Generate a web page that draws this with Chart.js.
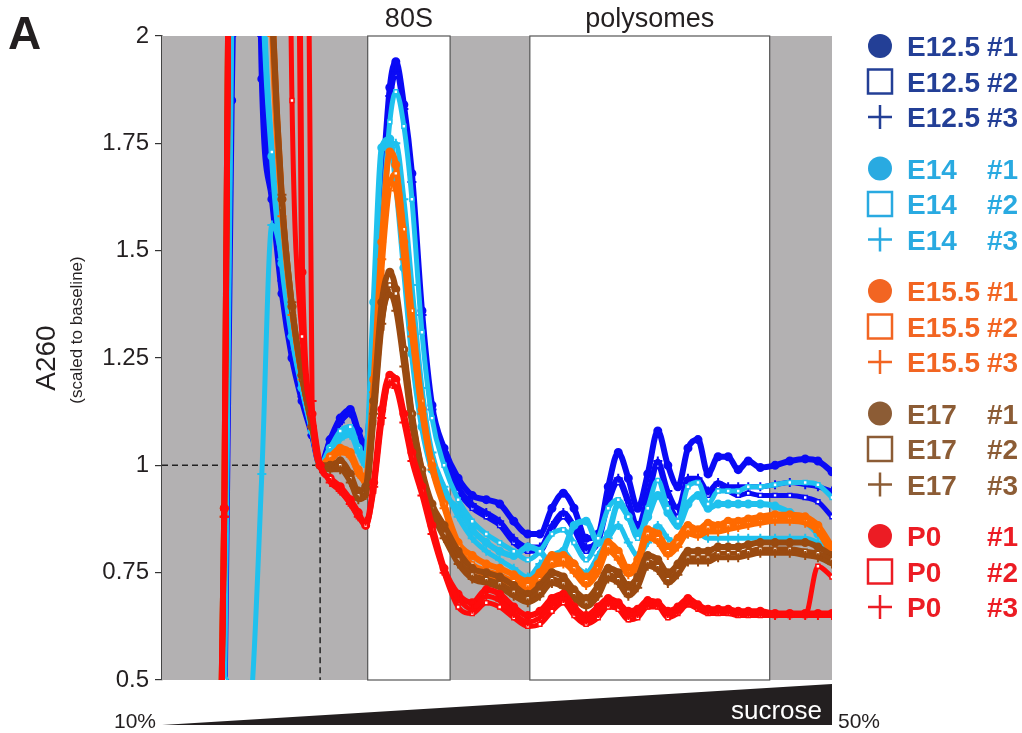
<!DOCTYPE html>
<html>
<head>
<meta charset="utf-8">
<script src="https://cdn.jsdelivr.net/npm/chart.js@4.4.1/dist/chart.umd.min.js"></script>
<style>
  html, body { margin: 0; padding: 0; background: #fff; }
  canvas { display: block; }
</style>
</head>
<body>
<canvas id="myChart" width="1022" height="733"></canvas>
<script>
// position along the gradient (% of tube length)
const pos = [7.8, 9.3, 10.4, 13.4, 14.9, 16.4, 17.9, 19.4, 20.9, 22.4,
  23.6, 25.1, 26.6, 28.1, 29.3, 30.4, 31.6, 32.8, 34.0, 34.9,
  36.1, 37.3, 38.8, 40.3, 42.1, 44.2, 46.3, 48.4, 50.4, 52.5,
  54.6, 56.4, 58.2, 59.9, 61.5, 63.3, 65.1, 66.6, 68.1, 69.6,
  71.0, 72.5, 74.0, 75.5, 77.0, 78.5, 80.0, 81.5, 83.0, 84.5,
  86.0, 87.5, 89.3, 91.5, 93.7, 96.0, 97.9, 100];

// A260 scaled to baseline
const e125_1 = [-0.6, 0.40, 1.85, 3.5, 1.90, 1.62, 1.40, 1.25, 1.15, 1.07,
  1.00, 1.06, 1.11, 1.13, 1.08, 1.04, 1.28, 1.62, 1.88, 1.94,
  1.84, 1.68, 1.36, 1.14, 1.04, 0.97, 0.93, 0.92, 0.91, 0.87,
  0.84, 0.84, 0.90, 0.935, 0.90, 0.83, 0.84, 0.95, 1.03, 0.97,
  0.90, 0.98, 1.08, 1.00, 0.95, 1.04, 1.06, 0.98, 1.02, 1.02,
  0.99, 1.01, 0.995, 1.0, 1.01, 1.015, 1.01, 0.985];
const e125_2 = [-0.6, 0.45, 1.95, 3.5, 1.95, 1.64, 1.42, 1.27, 1.16, 1.07,
  1.00, 1.05, 1.10, 1.12, 1.07, 1.03, 1.25, 1.58, 1.84, 1.91,
  1.82, 1.65, 1.33, 1.12, 1.02, 0.94, 0.90, 0.88, 0.86, 0.82,
  0.80, 0.80, 0.85, 0.88, 0.85, 0.80, 0.82, 0.91, 0.96, 0.91,
  0.85, 0.92, 1.00, 0.92, 0.88, 0.96, 0.96, 0.93, 0.95, 0.94,
  0.93, 0.935, 0.93, 0.93, 0.93, 0.925, 0.915, 0.88];
const e125_3 = [-0.6, 0.50, 2.0, 3.6, 2.0, 1.66, 1.43, 1.28, 1.16, 1.07,
  1.00, 1.06, 1.10, 1.12, 1.08, 1.03, 1.26, 1.60, 1.86, 1.92,
  1.83, 1.66, 1.35, 1.13, 1.03, 0.95, 0.91, 0.89, 0.87, 0.83,
  0.81, 0.81, 0.86, 0.89, 0.86, 0.81, 0.83, 0.92, 0.97, 0.92,
  0.86, 0.93, 1.01, 0.94, 0.90, 0.97, 0.97, 0.94, 0.96, 0.95,
  0.95, 0.95, 0.95, 0.955, 0.96, 0.955, 0.95, 0.94];

const e14_1 = [-0.6, 0.50, 2.1, 3.6, 2.2, 1.72, 1.47, 1.30, 1.18, 1.08,
  1.00, 1.04, 1.07, 1.08, 1.04, 1.02, 1.38, 1.74, 1.76, 1.66,
  1.46, 1.26, 1.09, 0.99, 0.93, 0.90, 0.85, 0.82, 0.80, 0.79,
  0.81, 0.80, 0.77, 0.80, 0.86, 0.87, 0.82, 0.84, 0.91, 0.88,
  0.84, 0.88, 0.93, 0.89, 0.86, 0.91, 0.93, 0.90, 0.91, 0.91,
  0.91, 0.91, 0.91, 0.905, 0.89, 0.87, 0.84, 0.81];
const e14_2 = [-0.6, 0.50, 2.1, 3.6, 2.2, 1.73, 1.48, 1.31, 1.18, 1.08,
  1.00, 1.04, 1.08, 1.09, 1.04, 1.00, 1.22, 1.55, 1.80, 1.87,
  1.79, 1.62, 1.31, 1.11, 1.00, 0.92, 0.87, 0.84, 0.82, 0.80,
  0.78, 0.80, 0.84, 0.85, 0.82, 0.78, 0.83, 0.90, 0.92, 0.88,
  0.83, 0.90, 0.965, 0.90, 0.87, 0.95, 0.96, 0.91, 0.94, 0.94,
  0.94, 0.95, 0.95, 0.955, 0.96, 0.96, 0.955, 0.925];
const e14_3 = [0.2, 0.2, 0.25, 0.47, 0.98, 1.56, 1.48, 1.30, 1.18, 1.08,
  1.00, 1.03, 1.06, 1.07, 1.03, 1.00, 1.25, 1.55, 1.73, 1.75,
  1.62, 1.42, 1.18, 1.03, 0.95, 0.88, 0.83, 0.80, 0.78, 0.76,
  0.74, 0.77, 0.79, 0.80, 0.77, 0.75, 0.79, 0.83, 0.86, 0.82,
  0.79, 0.82, 0.86, 0.83, 0.82, 0.84, 0.84, 0.83, 0.83, 0.83,
  0.83, 0.83, 0.83, 0.83, 0.83, 0.83, 0.82, 0.80];

const e155_1 = [-0.6, 0.90, 3.0, 4.0, 3.0, 2.1, 1.62, 1.37, 1.21, 1.09,
  1.00, 1.02, 1.04, 1.03, 0.99, 0.97, 1.20, 1.52, 1.73, 1.70,
  1.52, 1.32, 1.13, 1.00, 0.91, 0.82, 0.79, 0.77, 0.76, 0.745,
  0.73, 0.75, 0.79, 0.79, 0.77, 0.74, 0.77, 0.82, 0.80, 0.76,
  0.78, 0.85, 0.84, 0.81, 0.83, 0.86, 0.85, 0.865, 0.86, 0.87,
  0.87, 0.875, 0.88, 0.885, 0.885, 0.88, 0.86, 0.81];
const e155_2 = [-0.6, 0.85, 2.9, 4.0, 3.0, 2.05, 1.60, 1.36, 1.20, 1.09,
  1.00, 1.02, 1.03, 1.02, 0.98, 0.96, 1.15, 1.45, 1.65, 1.68,
  1.55, 1.36, 1.15, 1.01, 0.91, 0.81, 0.77, 0.755, 0.745, 0.73,
  0.72, 0.735, 0.775, 0.78, 0.76, 0.73, 0.76, 0.81, 0.79, 0.75,
  0.77, 0.84, 0.83, 0.80, 0.82, 0.85, 0.84, 0.855, 0.85, 0.86,
  0.86, 0.865, 0.87, 0.875, 0.875, 0.87, 0.85, 0.80];
const e155_3 = [-0.6, 0.88, 3.0, 4.0, 3.0, 2.0, 1.58, 1.35, 1.20, 1.09,
  1.00, 1.01, 1.03, 1.02, 0.98, 0.96, 1.17, 1.48, 1.66, 1.64,
  1.48, 1.30, 1.12, 0.99, 0.90, 0.80, 0.76, 0.745, 0.735, 0.72,
  0.71, 0.725, 0.765, 0.77, 0.75, 0.72, 0.75, 0.80, 0.78, 0.745,
  0.765, 0.83, 0.82, 0.79, 0.81, 0.84, 0.835, 0.845, 0.845, 0.85,
  0.855, 0.86, 0.865, 0.87, 0.87, 0.865, 0.845, 0.79];

const e17_1 = [-0.6, 0.90, 3.0, 4.0, 3.0, 2.1, 1.62, 1.37, 1.21, 1.09,
  1.00, 1.00, 1.01, 0.98, 0.94, 0.95, 1.15, 1.38, 1.45, 1.41,
  1.27, 1.12, 0.99, 0.91, 0.86, 0.80, 0.76, 0.75, 0.74, 0.72,
  0.70, 0.72, 0.75, 0.74, 0.71, 0.69, 0.72, 0.76, 0.75, 0.72,
  0.74, 0.79, 0.78, 0.75, 0.77, 0.80, 0.80, 0.80, 0.81, 0.81,
  0.81, 0.815, 0.82, 0.82, 0.82, 0.82, 0.81, 0.79];
const e17_2 = [-0.6, 0.85, 2.9, 4.0, 2.8, 2.05, 1.60, 1.36, 1.20, 1.09,
  1.00, 0.99, 1.00, 0.97, 0.93, 0.93, 1.10, 1.32, 1.42, 1.40,
  1.27, 1.12, 0.99, 0.90, 0.84, 0.78, 0.745, 0.735, 0.725, 0.705,
  0.69, 0.705, 0.735, 0.725, 0.70, 0.68, 0.705, 0.745, 0.735, 0.705,
  0.725, 0.775, 0.765, 0.735, 0.755, 0.785, 0.785, 0.785, 0.795, 0.795,
  0.795, 0.80, 0.805, 0.805, 0.805, 0.80, 0.795, 0.78];
const e17_3 = [-0.6, 0.88, 3.0, 4.0, 3.0, 2.1, 1.63, 1.38, 1.21, 1.09,
  1.00, 0.99, 0.99, 0.96, 0.92, 0.93, 1.12, 1.33, 1.40, 1.36,
  1.23, 1.09, 0.97, 0.89, 0.83, 0.77, 0.735, 0.725, 0.715, 0.695,
  0.68, 0.695, 0.725, 0.715, 0.69, 0.67, 0.695, 0.735, 0.725, 0.695,
  0.715, 0.765, 0.755, 0.725, 0.745, 0.775, 0.775, 0.775, 0.785, 0.785,
  0.785, 0.79, 0.795, 0.795, 0.795, 0.79, 0.785, 0.77];

const p0_1 = [-0.6, 0.90, 3.0, 4.0, 4.0, 4.0, 4.0, 4.0, 1.45, 1.12,
  1.00, 0.97, 0.95, 0.92, 0.89, 0.86, 0.96, 1.13, 1.21, 1.20,
  1.12, 1.03, 0.95, 0.86, 0.76, 0.70, 0.68, 0.71, 0.70, 0.67,
  0.65, 0.66, 0.69, 0.70, 0.67, 0.65, 0.67, 0.69, 0.68, 0.66,
  0.665, 0.685, 0.68, 0.66, 0.67, 0.69, 0.675, 0.665, 0.665, 0.665,
  0.66, 0.66, 0.66, 0.655, 0.655, 0.655, 0.655, 0.655];
const p0_2 = [-0.6, 0.85, 2.9, 4.0, 4.0, 4.0, 4.0, 1.85, 1.30, 1.12,
  1.00, 0.97, 0.94, 0.91, 0.88, 0.86, 0.94, 1.10, 1.20, 1.19,
  1.11, 1.02, 0.94, 0.85, 0.75, 0.67, 0.655, 0.68, 0.67, 0.645,
  0.625, 0.63, 0.66, 0.68, 0.65, 0.63, 0.645, 0.67, 0.665, 0.64,
  0.645, 0.67, 0.67, 0.645, 0.655, 0.675, 0.665, 0.655, 0.655, 0.655,
  0.65, 0.65, 0.65, 0.65, 0.65, 0.65, 0.765, 0.74];
const p0_3 = [-0.6, 0.88, 3.0, 4.0, 4.0, 4.0, 4.0, 4.0, 4.0, 1.15,
  1.00, 0.96, 0.94, 0.91, 0.88, 0.87, 0.95, 1.11, 1.19, 1.18,
  1.10, 1.01, 0.93, 0.84, 0.75, 0.69, 0.665, 0.695, 0.685, 0.655,
  0.635, 0.645, 0.675, 0.69, 0.66, 0.64, 0.655, 0.68, 0.675, 0.65,
  0.655, 0.675, 0.675, 0.655, 0.66, 0.68, 0.67, 0.66, 0.66, 0.66,
  0.655, 0.655, 0.655, 0.65, 0.65, 0.65, 0.65, 0.65];

const stages = ['E12.5', 'E14', 'E15.5', 'E17', 'P0'];
const series = [
  [e125_1, e125_2, e125_3],
  [e14_1, e14_2, e14_3],
  [e155_1, e155_2, e155_3],
  [e17_1, e17_2, e17_3],
  [p0_1, p0_2, p0_3]
];
const lineColors = ['#0a0af5', '#1fc1ee', '#ff6a00', '#9a4a10', '#ff0a0a'];
const legendColors = ['#233f96', '#29aae1', '#f26522', '#8c5c35', '#ec1c24'];
const yTicks = [0.5, 0.75, 1, 1.25, 1.5, 1.75, 2];

// fractions marked on the gradient
const fracNames = ['80S', 'polysomes'];
const fracFrom = [30.7, 54.9];
const fracTo = [43.0, 90.7];
const baselinePos = 23.6;

const markers = ['circle', 'rect', 'cross'];

var datasets = [];
series.forEach((grp, g) => {
  grp.forEach((vals, r) => {
    datasets.push({
      label: stages[g] + ' #' + (r + 1),
      data: vals.map((v, i) => ({ x: pos[i], y: v })),
      showLine: true,
      borderColor: lineColors[g],
      borderWidth: r == 0 ? 6 : 5,
      cubicInterpolationMode: 'monotone',
      pointStyle: markers[r],
      pointRadius: r == 0 ? 3.5 : (r == 1 ? 2.8 : 4.5),
      pointBorderWidth: r == 1 ? 1.5 : 2,
      pointBorderColor: lineColors[g],
      pointBackgroundColor: r == 1 ? '#ffffff' : lineColors[g],
      clip: 0,
      order: (4 - g) * 3 + (2 - r)
    });
  });
});

const FONT = 'Liberation Sans, Arial, Helvetica, sans-serif';

const decor = {
  id: 'decor',
  beforeDatasetsDraw(chart) {
    const c = chart.ctx, a = chart.chartArea, xs = chart.scales.x, ys = chart.scales.y;
    c.save();
    c.fillStyle = '#b3b1b2';
    c.fillRect(a.left, a.top, a.right - a.left, a.bottom - a.top);
    fracNames.forEach((n, i) => {
      const x0 = xs.getPixelForValue(fracFrom[i]), x1 = xs.getPixelForValue(fracTo[i]);
      c.fillStyle = '#fff';
      c.fillRect(x0, a.top, x1 - x0, a.bottom - a.top);
      c.strokeStyle = '#555';
      c.lineWidth = 1.2;
      c.strokeRect(x0, a.top, x1 - x0, a.bottom - a.top);
    });
    // baseline marker
    c.strokeStyle = '#222';
    c.lineWidth = 1.5;
    c.setLineDash([6, 4]);
    const bx = xs.getPixelForValue(baselinePos), by = ys.getPixelForValue(1);
    c.beginPath();
    c.moveTo(a.left, by); c.lineTo(bx, by); c.lineTo(bx, a.bottom);
    c.stroke();
    c.restore();
  },
  afterDraw(chart) {
    const c = chart.ctx, a = chart.chartArea, xs = chart.scales.x, ys = chart.scales.y;
    c.save();
    c.fillStyle = '#231f20';
    c.textAlign = 'center';
    c.textBaseline = 'alphabetic';
    c.font = '27px ' + FONT;
    fracNames.forEach((n, i) => {
      const xm = (xs.getPixelForValue(fracFrom[i]) + xs.getPixelForValue(fracTo[i])) / 2;
      c.fillText(n, xm, a.top - 9);
    });

    // panel letter
    c.textAlign = 'left';
    c.font = 'bold 46px ' + FONT;
    c.fillText('A', 8, 49);

    // y title
    c.save();
    c.translate(47, ys.getPixelForValue(1.25));
    c.rotate(-Math.PI / 2);
    c.textAlign = 'center';
    c.textBaseline = 'middle';
    c.font = '28px ' + FONT;
    c.fillText('A260', 0, 0);
    c.restore();
    c.save();
    c.translate(77, 330);
    c.rotate(-Math.PI / 2);
    c.textAlign = 'center';
    c.textBaseline = 'middle';
    c.font = '17px ' + FONT;
    c.fillText('(scaled to baseline)', 0, 0);
    c.restore();

    // sucrose gradient wedge
    c.beginPath();
    c.moveTo(a.left, 725);
    c.lineTo(a.right, 684);
    c.lineTo(a.right, 725);
    c.closePath();
    c.fill();
    c.fillStyle = '#fff';
    c.textAlign = 'right';
    c.font = '26px ' + FONT;
    c.fillText('sucrose', a.right - 10, 719);
    c.fillStyle = '#231f20';
    c.font = '21px ' + FONT;
    c.fillText('10%', a.left - 6, 728);
    c.textAlign = 'left';
    c.fillText('50%', a.right + 6, 728);

    // legend
    c.font = 'bold 28px ' + FONT;
    stages.forEach((s, g) => {
      for (let r = 0; r < 3; r++) {
        const y = 46 + g * 122.5 + r * 35.5;
        const col = legendColors[g];
        c.fillStyle = col;
        c.strokeStyle = col;
        c.lineWidth = 2.5;
        if (r == 0) {
          c.beginPath(); c.arc(880, y, 12, 0, Math.PI * 2); c.fill();
        } else if (r == 1) {
          c.strokeRect(868, y - 12, 24, 24);
        } else {
          c.beginPath();
          c.moveTo(868, y); c.lineTo(892, y);
          c.moveTo(880, y - 12); c.lineTo(880, y + 12);
          c.stroke();
        }
        c.fillText(s, 907, y + 10);
        c.fillText('#' + (r + 1), 987, y + 10);
      }
    });
    c.restore();
  }
};

var ctx = document.getElementById('myChart').getContext('2d');
var myChart = new Chart(ctx, {
  type: 'scatter',
  data: { datasets: datasets },
  options: {
    responsive: false,
    animation: false,
    layout: { padding: { top: 36, right: 190, bottom: 53, left: 0 } },
    plugins: { legend: { display: false }, tooltip: { enabled: false } },
    scales: {
      x: { type: 'linear', min: 0, max: 100, display: false },
      y: {
        min: 0.5, max: 2,
        afterFit: (s) => { s.width = 162; },
        afterBuildTicks: (s) => { s.ticks = yTicks.map(v => ({ value: v })); },
        ticks: {
          callback: (v) => String(v),
          color: '#231f20',
          font: { family: FONT, size: 24 },
          padding: 6
        },
        grid: { drawOnChartArea: false, tickLength: 7, color: '#333', lineWidth: 1.2 },
        border: { color: '#444', width: 1.5 }
      }
    }
  },
  plugins: [decor]
});
</script>
</body>
</html>
